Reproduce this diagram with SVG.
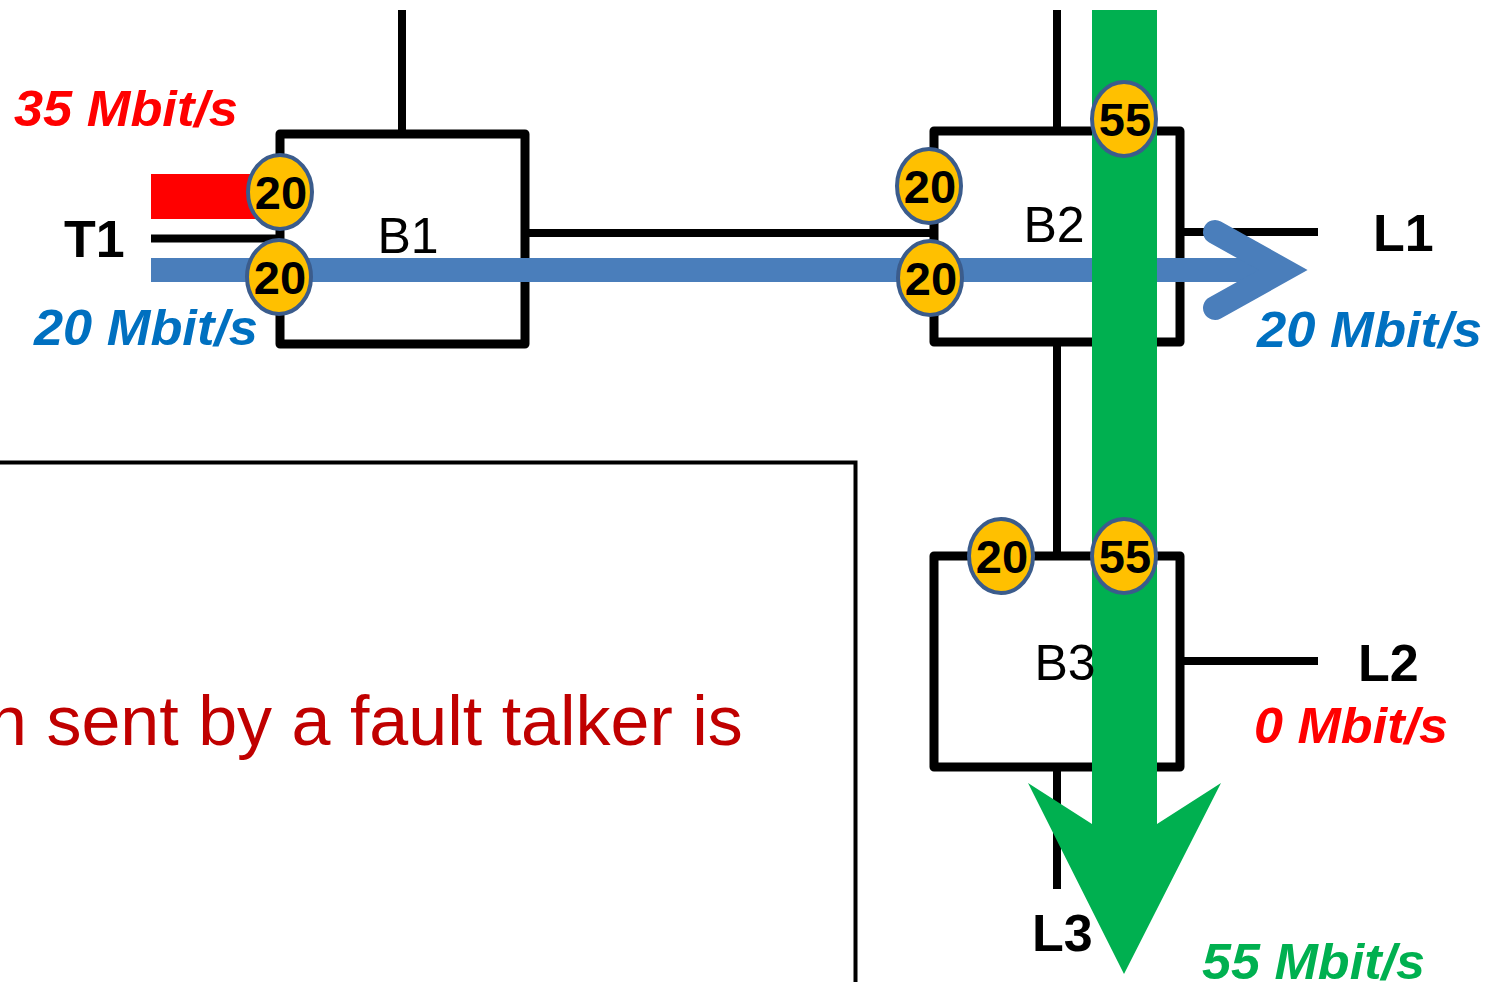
<svg xmlns="http://www.w3.org/2000/svg" width="1487" height="982" viewBox="0 0 1487 982">
<style>
.box{fill:#fff;stroke:#000;stroke-width:9;stroke-linejoin:round}
.ln{stroke:#000;stroke-width:8;fill:none}
.port{fill:#FFC000;stroke:#3B5C8C;stroke-width:4}
.pt{font-family:"Liberation Sans",Arial,sans-serif;font-weight:bold;font-size:47px;fill:#000;text-anchor:middle}
.bl{font-family:"Liberation Sans",Arial,sans-serif;font-size:50px;fill:#000;text-anchor:middle}
.nl{font-family:"Liberation Sans",Arial,sans-serif;font-weight:bold;font-size:52px;fill:#000}
.rate{font-family:"Liberation Sans",Arial,sans-serif;font-weight:bold;font-style:italic;font-size:50px}
</style>
<rect width="1487" height="982" fill="#fff"/>
<g id="note">
<rect x="-20" y="462.5" width="875.5" height="600" fill="none" stroke="#000" stroke-width="4"/>
<text x="-12" y="745" font-family="Liberation Sans, Arial, sans-serif" font-size="70" fill="#C00000">n sent by a fault talker is</text>
</g>
<g id="connectors">
<line class="ln" x1="402" y1="10" x2="402" y2="134"/>
<line class="ln" x1="151" y1="238.5" x2="280" y2="238.5"/>
<line class="ln" x1="525" y1="233" x2="934" y2="233"/>
<line class="ln" x1="1057" y1="10" x2="1057" y2="131"/>
<line class="ln" x1="1180" y1="232" x2="1318" y2="232"/>
<line class="ln" x1="1057" y1="342" x2="1057" y2="556"/>
<line class="ln" x1="1180" y1="661" x2="1318" y2="661"/>
<line class="ln" x1="1057" y1="767" x2="1057" y2="889"/>
</g>
<g id="B1"><rect class="box" x="280" y="134" width="245" height="210"/><text class="bl" x="408" y="253">B1</text></g>
<g id="B2"><rect class="box" x="934" y="131" width="246" height="211"/><text class="bl" x="1054" y="242">B2</text></g>
<g id="B3"><rect class="box" x="934" y="556" width="246" height="211"/></g>
<g id="flows">
<rect x="151" y="174" width="120" height="45" fill="#FF0000"/>
<line x1="151" y1="270" x2="1283" y2="270" stroke="#4A7EBB" stroke-width="24"/>
<polyline points="1215,232 1283,270 1215,308" fill="none" stroke="#4A7EBB" stroke-width="24" stroke-linecap="round" stroke-linejoin="miter" stroke-miterlimit="10"/>
<polygon points="1092,10 1157,10 1157,824 1221,783 1124,974 1028,783 1092,824" fill="#00B050"/>
</g>
<text class="bl" x="1065" y="680">B3</text>
<g id="ports">
<ellipse class="port" cx="280" cy="192" rx="32" ry="37"/><text class="pt" x="281" y="209">20</text>
<ellipse class="port" cx="279" cy="277" rx="32" ry="37"/><text class="pt" x="280" y="294">20</text>
<ellipse class="port" cx="929" cy="186" rx="32" ry="37"/><text class="pt" x="930" y="203">20</text>
<ellipse class="port" cx="930" cy="278" rx="32" ry="37"/><text class="pt" x="931" y="295">20</text>
<ellipse class="port" cx="1124" cy="119" rx="32" ry="37"/><text class="pt" x="1125" y="136">55</text>
<ellipse class="port" cx="1001" cy="556" rx="32" ry="37"/><text class="pt" x="1002" y="573">20</text>
<ellipse class="port" cx="1124" cy="556" rx="32" ry="37"/><text class="pt" x="1125" y="573">55</text>
</g>
<g id="T1"><text class="nl" x="64" y="257">T1</text></g>
<g id="L1"><text class="nl" x="1373" y="251">L1</text></g>
<g id="L2"><text class="nl" x="1358" y="681">L2</text></g>
<g id="L3"><text class="nl" x="1032" y="951">L3</text></g>
<g id="rates">
<text class="rate" fill="#FF0000" x="14" y="126" textLength="224" lengthAdjust="spacingAndGlyphs">35 Mbit/s</text>
<text class="rate" fill="#0070C0" x="34" y="345" textLength="224" lengthAdjust="spacingAndGlyphs">20 Mbit/s</text>
<text class="rate" fill="#0070C0" x="1257" y="347" textLength="225" lengthAdjust="spacingAndGlyphs">20 Mbit/s</text>
<text class="rate" fill="#FF0000" x="1254" y="743" textLength="194" lengthAdjust="spacingAndGlyphs">0 Mbit/s</text>
<text class="rate" fill="#00B050" x="1202" y="979" textLength="223" lengthAdjust="spacingAndGlyphs">55 Mbit/s</text>
</g>
</svg>
